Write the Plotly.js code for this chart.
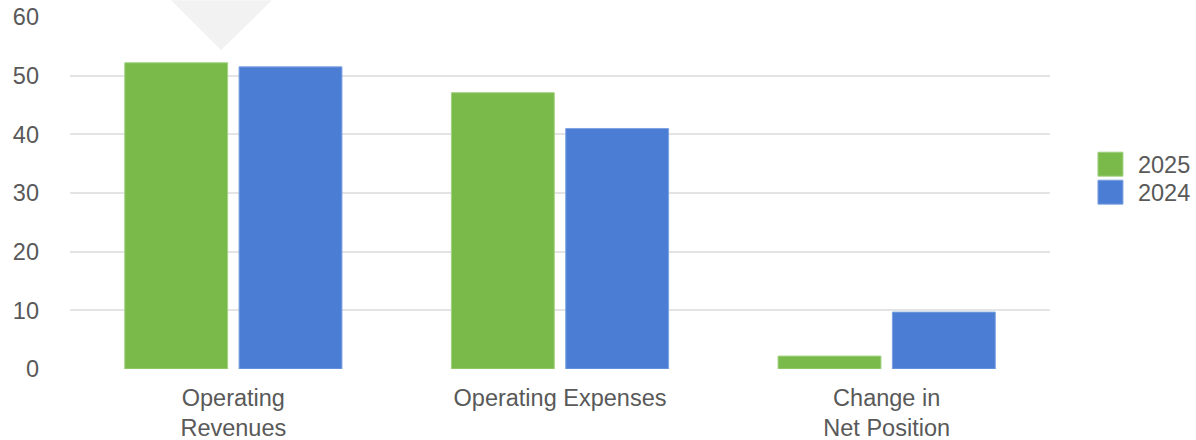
<!DOCTYPE html>
<html>
<head>
<meta charset="utf-8">
<script src="https://cdn.plot.ly/plotly-3.0.1.min.js"></script>
<style>
  html, body { margin: 0; padding: 0; background: #fff; }
  #chart { width: 1196px; height: 440px; }
</style>
</head>
<body>
<div id="chart"></div>
<script>
const categories = ["Operating<br>Revenues", "Operating Expenses", "Change in<br>Net Position"];
const values2025 = [52.2, 47.1, 2.2];
const values2024 = [51.5, 41.0, 9.7];
const seriesNames = ["2025", "2024"];
const yTicks = [0, 10, 20, 30, 40, 50, 60];

const FONT = "Liberation Sans, Arial, sans-serif";
const TXT = "#595959";

const traces = [
  {
    type: "bar", name: seriesNames[0], x: categories, y: values2025,
    marker: { color: "#7aba4a", line: { color: "#a3d283", width: 1 } },
    hoverinfo: "skip"
  },
  {
    type: "bar", name: seriesNames[1], x: categories, y: values2024,
    marker: { color: "#4a7dd3", line: { color: "#7fa3e2", width: 1 } },
    hoverinfo: "skip"
  }
];

const layout = {
  width: 1196, height: 440,
  margin: { l: 70, r: 146, t: 17, b: 71, autoexpand: false },
  paper_bgcolor: "#fff", plot_bgcolor: "#fff",
  font: { family: FONT, size: 23.5, color: TXT },
  barmode: "group", bargap: 0.3, bargroupgap: 0.1,
  showlegend: true,
  legend: {
    x: 1.0367, xanchor: "left", y: 0.55, yanchor: "middle",
    font: { family: FONT, size: 23.5, color: TXT },
    tracegroupgap: 0, itemwidth: 30
  },
  xaxis: {
    type: "category", showgrid: false, showline: false, zeroline: false,
    ticks: "", ticklabelstandoff: 12,
    tickfont: { family: FONT, size: 23.5, color: TXT }
  },
  yaxis: {
    range: [0, 60], tickvals: yTicks, ticktext: yTicks.map(String),
    showgrid: true, gridcolor: "#e4e4e4", gridwidth: 2,
    zeroline: false, showline: false, ticks: "",
    ticklabelstandoff: 30, ticklabelshift: 2.5,
    tickfont: { family: FONT, size: 23.5, color: TXT }
  },
  shapes: [
    {
      type: "path", xref: "paper", yref: "paper", layer: "above",
      path: "M0.1031,1.0474 L0.2061,1.0474 L0.1541,0.9055 Z",
      fillcolor: "rgba(0,0,0,0.05)", line: { width: 0 }
    }
  ]
};

function tidyLegend() {
  const legend = document.querySelector(".legend");
  if (legend) legend.removeAttribute("clip-path");
  document.querySelectorAll(".legend [clip-path]").forEach(el => el.removeAttribute("clip-path"));
  document.querySelectorAll(".legend .legendpoints path").forEach(p => {
    p.setAttribute("d", "M12,12H37V-12H12Z");
    p.removeAttribute("transform");
  });
  document.querySelectorAll(".legend .legendtext").forEach(t => {
    const x = parseFloat(t.getAttribute("x") || "40");
    t.setAttribute("x", x + 12);
  });
  const items = document.querySelectorAll(".legend .traces");
  if (items.length) {
    const m = /translate\(([-\d.]+),\s*([-\d.]+)\)/.exec(items[0].getAttribute("transform") || "");
    if (m) {
      const x0 = parseFloat(m[1]), y0 = parseFloat(m[2]);
      items.forEach((g, i) => g.setAttribute("transform", `translate(${x0},${y0 + 6 + i * 28})`));
    }
  }
}

Plotly.newPlot("chart", traces, layout, { displayModeBar: false, staticPlot: true }).then(tidyLegend);
</script>
</body>
</html>
